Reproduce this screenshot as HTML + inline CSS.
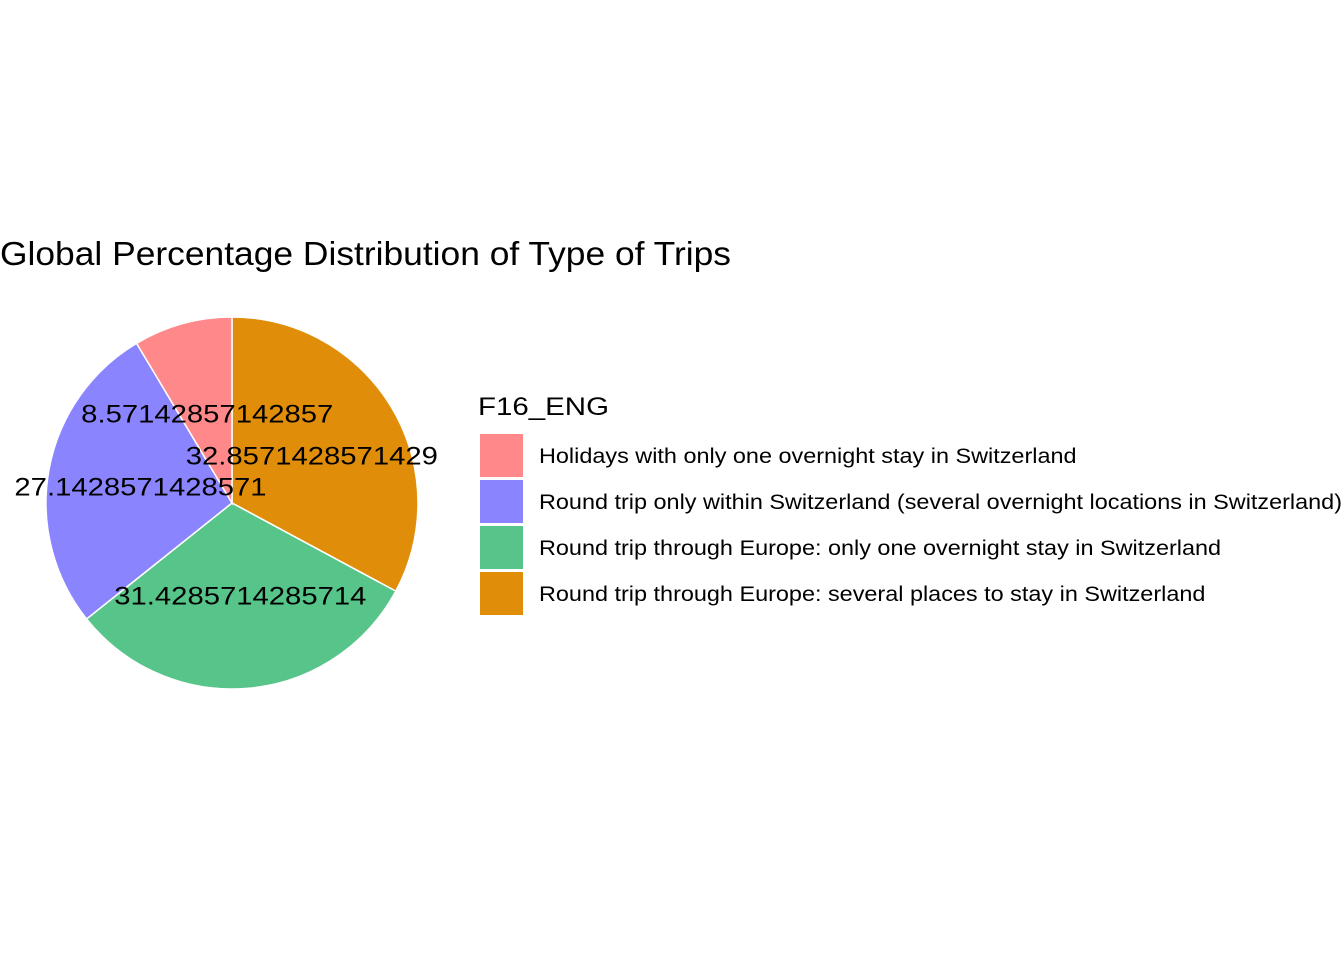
<!DOCTYPE html>
<html><head><meta charset="utf-8"><style>
html,body{margin:0;padding:0;background:#fff;}
svg{display:block;font-family:"Liberation Sans",Arial,sans-serif;}
</style></head><body>
<svg id="chart" width="1344" height="960" viewBox="0 0 1344 960">
<text x="0" y="265" font-size="33" textLength="731" lengthAdjust="spacingAndGlyphs" fill="#000">Global Percentage Distribution of Type of Trips</text>
<g id="slices"></g>
<g id="labels"></g>
<g id="legend">
<text x="478" y="415" font-size="25" textLength="131" lengthAdjust="spacingAndGlyphs" fill="#000">F16_ENG</text>
</g>
</svg>
<script>
const categories = [
 "Holidays with only one overnight stay in Switzerland",
 "Round trip only within Switzerland (several overnight locations in Switzerland)",
 "Round trip through Europe: only one overnight stay in Switzerland",
 "Round trip through Europe: several places to stay in Switzerland"
];
const values = [8.57142857142857, 27.1428571428571, 31.4285714285714, 32.8571428571429];
const valueLabels = ["8.57142857142857","27.1428571428571","31.4285714285714","32.8571428571429"];
const colors = ["#FF898A","#8A84FF","#57C589","#E08E0A"];

const NS="http://www.w3.org/2000/svg";
const cx=232, cy=503, R=186;
const total=values.reduce((a,b)=>a+b,0);
function pt(angDeg,r){const a=angDeg*Math.PI/180;return [cx+r*Math.sin(a), cy-r*Math.cos(a)];}
function stretch(t,f){const w=t.getComputedTextLength();t.setAttribute('textLength',w*f);t.setAttribute('lengthAdjust','spacingAndGlyphs');}
const slices=document.getElementById('slices'), labels=document.getElementById('labels');
let start=0;
for(let i=values.length-1;i>=0;i--){
  const sweep=values[i]/total*360, end=start+sweep;
  const [x1,y1]=pt(start,R),[x2,y2]=pt(end,R);
  const p=document.createElementNS(NS,'path');
  p.setAttribute('d',`M${cx},${cy} L${x1},${y1} A${R},${R} 0 ${sweep>180?1:0} 1 ${x2},${y2} Z`);
  p.setAttribute('fill',colors[i]);p.setAttribute('stroke','#fff');p.setAttribute('stroke-width','1.5');
  
  
  slices.appendChild(p);
  const [lx,ly]=pt(start+sweep/2,R/2);
  const t=document.createElementNS(NS,'text');
  t.setAttribute('x',lx);t.setAttribute('y',ly+9);t.setAttribute('text-anchor','middle');
  t.setAttribute('font-size','25');t.textContent=valueLabels[i];
  
  
  labels.appendChild(t);
  stretch(t,1.17);
  start=end;
}
const legend=document.getElementById('legend');
categories.forEach((c,i)=>{
  const y=434+i*46;
  const r=document.createElementNS(NS,'rect');
  r.setAttribute('x',480);r.setAttribute('y',y);r.setAttribute('width',43);r.setAttribute('height',43);
  r.setAttribute('fill',colors[i]);
  
  
  legend.appendChild(r);
  const t=document.createElementNS(NS,'text');
  t.setAttribute('x',539);t.setAttribute('y',y+29);t.setAttribute('font-size','21');t.textContent=c;
  
  
  legend.appendChild(t);
  stretch(t,1.115);
});
</script>
</body></html>
